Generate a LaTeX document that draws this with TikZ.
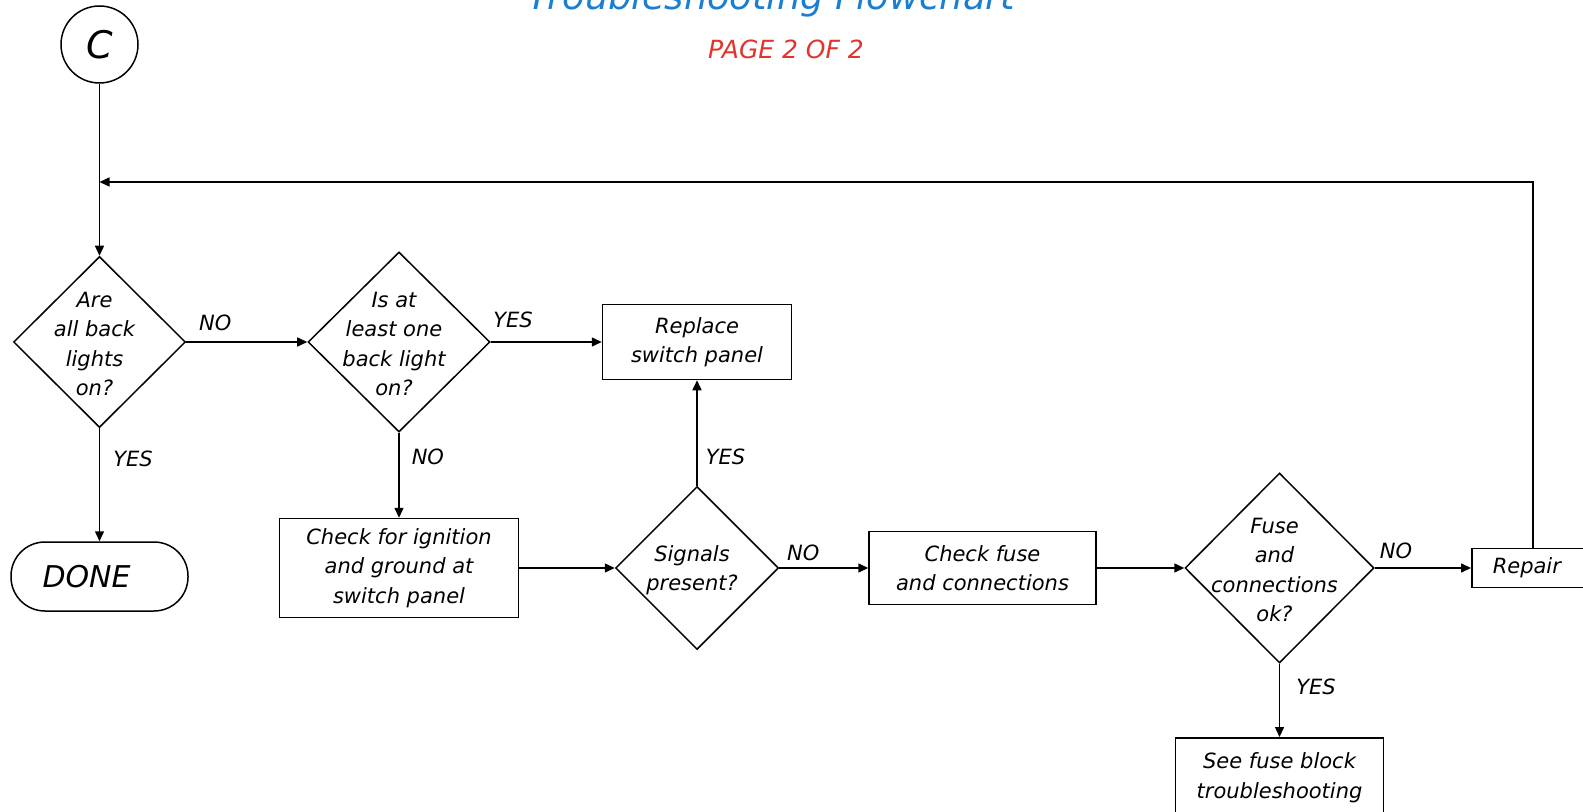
\documentclass[tikz,border=0pt]{standalone}
\usepackage{fontspec}
\setmainfont{DejaVu Sans}
\usetikzlibrary{shapes.geometric,arrows.meta}
\definecolor{titleblue}{HTML}{1A7FD0}
\definecolor{pagered}{HTML}{E2342A}

\begin{document}
\begin{tikzpicture}[
  x=0.5pt, y=-0.5pt,
  line width=0.75pt,
  every node/.style={font=\itshape\fontsize{10.5}{14.75}\selectfont},
  connector/.style={draw,circle,minimum size=38.5pt,inner sep=0pt,font=\itshape\fontsize{19}{19}\selectfont},
  terminal/.style={draw,rounded corners=17pt,minimum height=34.5pt,text width=57pt,inner xsep=15.75pt,align=left,font=\itshape\fontsize{15}{15}\selectfont},
  process/.style={draw,rectangle,align=center,inner sep=0pt},
  decision/.style={draw,diamond,inner sep=0pt},
  question/.style={label={[align=center,xshift=-2.5pt,yshift=-1pt]center:#1}},
  flow/.style={-{Triangle[length=5pt,width=4.5pt]}},
  edgelabel/.style={inner sep=2pt},
  edgelabelA/.style={edgelabel, anchor=south},
  edgelabelR/.style={edgelabel, anchor=west}
]
\useasboundingbox (0,0) rectangle (1583,812);

\node[font=\itshape\fontsize{18.4}{18.4}\selectfont, text=titleblue, anchor=base] (title) at (771.5,10) {Troubleshooting Flowchart};
\node[font=\itshape\fontsize{12.5}{12.5}\selectfont, text=pagered, anchor=base] (page) at (786,58.5) {PAGE 2 OF 2};

\node[connector] (start) at (99.5,44.5) {C};
\coordinate (loop) at (99.5,182);
\node[decision, minimum width=86pt, minimum height=85.5pt, question={Are\\all back\\lights\\on?}] (allOn) at (99.5,342) {};
\node[terminal] (done) at (99.5,576.5) {DONE};
\node[decision, minimum width=91pt, minimum height=90pt, question={Is at\\least one\\back light\\on?}] (oneOn) at (399,342) {};
\node[process, minimum width=94.5pt, minimum height=37.5pt] (replace) at (697,342) {Replace\\switch panel};
\node[process, minimum width=119.5pt, minimum height=49.5pt] (check) at (399,568) {Check for ignition\\and ground at\\switch panel};
\node[decision, minimum size=81.5pt, question={Signals\\present?}] (signals) at (697,568) {};
\node[process, minimum width=113.5pt, minimum height=36.5pt] (checkFuse) at (982.5,568) {Check fuse\\and connections};
\node[decision, minimum width=94.5pt, minimum height=95pt, question={Fuse\\and\\connections\\ok?}] (fuseOk) at (1279.5,568) {};
\node[process, anchor=west, minimum height=19.5pt, text width=40pt, inner xsep=10.5pt, align=left] (repair) at (1471,568) {Repair};
\node[process, anchor=north, minimum width=104pt, minimum height=40pt] (fuseBlock) at (1279.5,737) {See fuse block\\troubleshooting};

\draw[flow] (start) -- (allOn);
\draw[flow] (repair.north) |- (loop);
\draw[flow] (allOn) -- node[edgelabelA, pos=.24, yshift=3pt] {NO} (oneOn);
\draw[flow] (allOn) -- node[edgelabelR, pos=.275, xshift=4.5pt] {YES} (done);
\draw[flow] (oneOn) -- node[edgelabelA, pos=.2, yshift=4.5pt] {YES} (replace);
\draw[flow] (oneOn) -- node[edgelabelR, pos=.28, xshift=4pt] {NO} (check);
\draw[flow] (check) -- (signals);
\draw[flow] (signals) -- node[edgelabelR, pos=.27, xshift=2pt] {YES} (replace);
\draw[flow] (signals) -- node[edgelabelA, pos=.27, yshift=1pt] {NO} (checkFuse);
\draw[flow] (checkFuse) -- (fuseOk);
\draw[flow] (fuseOk) -- node[edgelabelA, pos=.22, yshift=2pt] {NO} (repair);
\draw[flow] (fuseOk) -- node[edgelabelR, pos=.32, xshift=6pt] {YES} (fuseBlock);
\end{tikzpicture}
\end{document}
